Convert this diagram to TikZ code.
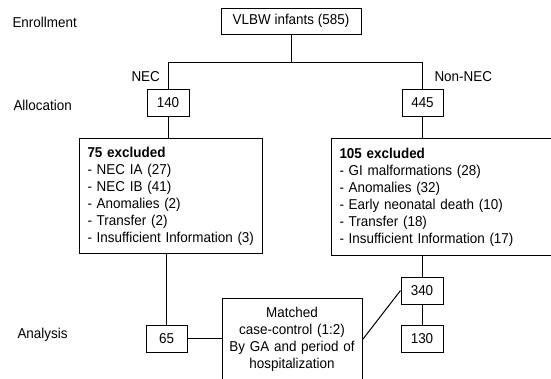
\documentclass[tikz,border=0pt]{standalone}
\usepackage{fontspec}
\setmainfont[FakeStretch=0.94]{Liberation Sans}
\newcommand\flowfs{\fontsize{14.3}{17}\selectfont}
\begin{document}
\begin{tikzpicture}[x=1pt,y=-1pt,
  every node/.style={font=\flowfs},
  box/.style={draw, line width=1pt, inner sep=0pt},
  numbox/.style={box, minimum width=42pt, minimum height=27pt},
  listbox/.style={box, anchor=north west, align=left, inner xsep=8pt, inner ysep=0pt},
  stage/.style={anchor=base west},
  conn/.style={line width=1pt}]
\useasboundingbox (0,0) rectangle (551,378);
\fill[white] (0,0) rectangle (551,378);
\clip (0,0) rectangle (551,378);

\node[stage] (enr) at (9,27) {Enrollment};
\node[stage] (all) at (10,110) {Allocation};
\node[stage] (ana) at (14,338) {Analysis};
\node[stage] (nec) at (128,81) {NEC};
\node[stage] (nonnec) at (431,81) {Non-NEC};

\node[box, minimum width=140pt, minimum height=26pt] (vlbw) at (291,21) {VLBW infants (585)};
\node[numbox] (n140) at (168,102.5) {140};
\node[numbox, minimum width=41pt] (n445) at (422.5,102.5) {445};

\node[listbox, text width=167pt, minimum height=115pt] (ex75) at (79,138)
  {\textbf{75 excluded}\\- NEC IA (27)\\- NEC IB (41)\\- Anomalies (2)\\- Transfer (2)\\- Insufficient Information (3)};
\node[listbox, text width=224pt, minimum height=117pt] (ex105) at (331,138)
  {\textbf{105 excluded}\\- GI malformations (28)\\- Anomalies (32)\\- Early neonatal death (10)\\- Transfer (18)\\- Insufficient Information (17)};

\node[numbox, minimum width=41pt] (n65) at (166.5,338.5) {65};
\node[box, anchor=north, minimum width=140pt, text width=140pt, align=center, inner ysep=9pt] (match) at (292,298)
  {Matched\\case-control (1:2)\\By GA and period of\\hospitalization};
\node[numbox] (n340) at (422,290.5) {340};
\node[numbox] (n130) at (422,338.5) {130};

\coordinate (j) at (291,62);
\draw[conn] (vlbw.south) -- (j);
\draw[conn] (n140.north) -- (n140.north |- j) -- (n445.north |- j) -- (n445.north);
\draw[conn] (n140.south) -- (n140.south |- ex75.north);
\draw[conn] (n445.south) -- (n445.south |- ex105.north);
\draw[conn] (n65.north) -- (n65.north |- ex75.south);
\draw[conn] (n340.north) -- (n340.north |- ex105.south);
\draw[conn] (n340.south) -- (n130.north);
\draw[conn] (n65.east) -- (n65.east -| match.west);
\draw[conn] (match.east) -- (n340.west);
\end{tikzpicture}
\end{document}
